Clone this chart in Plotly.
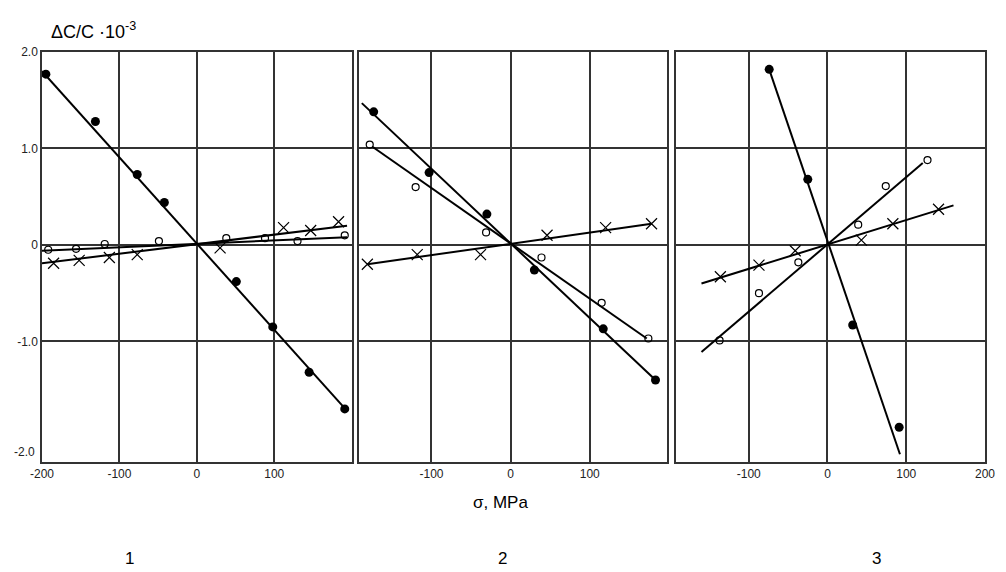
import plotly.graph_objects as go

# ---------------- data ----------------
# Panel 1
p1_filled_x = [-195, -131, -77, -42, 51, 98, 145, 191]
p1_filled_y = [1.77, 1.28, 0.73, 0.44, -0.38, -0.85, -1.32, -1.70]
p1_open_x = [-192, -156, -119, -49, 38, 88, 130, 191]
p1_open_y = [-0.05, -0.04, 0.01, 0.04, 0.07, 0.07, 0.04, 0.10]
p1_cross_x = [-185, -152, -113, -77, 30, 112, 147, 183]
p1_cross_y = [-0.19, -0.16, -0.13, -0.10, -0.03, 0.18, 0.15, 0.24]
p1_fit_filled_x = [-200, 194]
p1_fit_filled_y = [1.80, -1.72]
p1_fit_open_x = [-200, 194]
p1_fit_open_y = [-0.06, 0.08]
p1_fit_cross_x = [-200, 194]
p1_fit_cross_y = [-0.19, 0.20]

# Panel 2
p2_filled_x = [-173, -103, -30, 30, 117, 183]
p2_filled_y = [1.38, 0.75, 0.32, -0.26, -0.87, -1.40]
p2_open_x = [-178, -120, -31, 39, 115, 174]
p2_open_y = [1.04, 0.60, 0.13, -0.13, -0.60, -0.97]
p2_cross_x = [-181, -118, -38, 46, 120, 178]
p2_cross_y = [-0.20, -0.10, -0.10, 0.10, 0.18, 0.22]
p2_fit_filled_x = [-188, 183]
p2_fit_filled_y = [1.47, -1.40]
p2_fit_open_x = [-175, 172]
p2_fit_open_y = [1.02, -0.97]
p2_fit_cross_x = [-181, 178]
p2_fit_cross_y = [-0.20, 0.22]

# Panel 3
p3_filled_x = [-74, -25, 32, 91]
p3_filled_y = [1.82, 0.68, -0.83, -1.89]
p3_open_x = [-137, -87, -37, 39, 74, 127]
p3_open_y = [-0.99, -0.50, -0.18, 0.21, 0.61, 0.88]
p3_cross_x = [-136, -87, -41, 43, 83, 141]
p3_cross_y = [-0.33, -0.21, -0.06, 0.05, 0.22, 0.37]
p3_fit_filled_x = [-74, 92]
p3_fit_filled_y = [1.82, -2.17]
p3_fit_open_x = [-160, 121]
p3_fit_open_y = [-1.11, 0.85]
p3_fit_cross_x = [-160, 160]
p3_fit_cross_y = [-0.40, 0.41]

y_tick_vals = [2.0, 1.0, 0.0, -1.0]
y_tick_text = ["2.0", "1.0", "0", "-1.0"]
x1_ticks = [-200, -100, 0, 100]
x1_text = ["-200", "-100", "0", "100"]
x2_ticks = [-100, 0, 100]
x2_text = ["-100", "0", "100"]
x3_ticks = [-100, 0, 100, 200]
x3_text = ["-100", "0", "100", "200"]
panel_labels = ["1", "2", "3"]

# ---------------- figure ----------------
fig = go.Figure()

panels = [
    (p1_filled_x, p1_filled_y, p1_open_x, p1_open_y, p1_cross_x, p1_cross_y,
     p1_fit_filled_x, p1_fit_filled_y, p1_fit_open_x, p1_fit_open_y, p1_fit_cross_x, p1_fit_cross_y),
    (p2_filled_x, p2_filled_y, p2_open_x, p2_open_y, p2_cross_x, p2_cross_y,
     p2_fit_filled_x, p2_fit_filled_y, p2_fit_open_x, p2_fit_open_y, p2_fit_cross_x, p2_fit_cross_y),
    (p3_filled_x, p3_filled_y, p3_open_x, p3_open_y, p3_cross_x, p3_cross_y,
     p3_fit_filled_x, p3_fit_filled_y, p3_fit_open_x, p3_fit_open_y, p3_fit_cross_x, p3_fit_cross_y),
]

for i, pdata in enumerate(panels):
    (fx, fy, ox, oy, cx, cy, ffx, ffy, fox, foy, fcx, fcy) = pdata
    xa = "x" if i == 0 else f"x{i+1}"
    ya = "y" if i == 0 else f"y{i+1}"
    line_style = dict(color="black", width=2)
    for lx, ly in [(ffx, ffy), (fox, foy), (fcx, fcy)]:
        fig.add_trace(go.Scatter(x=lx, y=ly, mode="lines", line=line_style,
                                 xaxis=xa, yaxis=ya, showlegend=False, hoverinfo="skip"))
    fig.add_trace(go.Scatter(x=fx, y=fy, mode="markers",
                             marker=dict(symbol="circle", size=9, color="black"),
                             xaxis=xa, yaxis=ya, showlegend=False))
    fig.add_trace(go.Scatter(x=ox, y=oy, mode="markers",
                             marker=dict(symbol="circle-open", size=7, color="black",
                                         line=dict(width=1.2, color="black")),
                             xaxis=xa, yaxis=ya, showlegend=False))
    fig.add_trace(go.Scatter(x=cx, y=cy, mode="markers",
                             marker=dict(symbol="x-thin", size=11, color="black",
                                         line=dict(width=1.2, color="black")),
                             xaxis=xa, yaxis=ya, showlegend=False))

W, H = 1006, 572
ml, mr, mt, mb = 42, 11, 52, 110
pw = W - ml - mr

def dom(a, b):
    return [(a - ml) / pw, (b - ml) / pw]

tick_font = dict(family="Liberation Sans Narrow, Liberation Sans, Arial", size=12, color="#222")
grid_col = "#333333"

common_x = dict(showgrid=True, gridcolor=grid_col, gridwidth=1.5, zeroline=False,
                showline=True, linecolor=grid_col, linewidth=1.5, mirror=True,
                ticks="", tickfont=tick_font, fixedrange=True)
common_y = dict(range=[-2.25, 2.0], showgrid=True, gridcolor=grid_col, gridwidth=1.5,
                zeroline=False, showline=True, linecolor=grid_col, linewidth=1.5,
                mirror=True, ticks="", tickvals=y_tick_vals, fixedrange=True)

fig.update_layout(
    width=W, height=H,
    margin=dict(l=ml, r=mr, t=mt, b=mb),
    plot_bgcolor="white", paper_bgcolor="white",
    xaxis=dict(domain=dom(42, 355), range=[-200, 200], tickvals=x1_ticks, ticktext=x1_text,
               anchor="y", **common_x),
    xaxis2=dict(domain=dom(362, 674), range=[-192, 198], tickvals=x2_ticks, ticktext=x2_text,
                anchor="y2", **common_x),
    xaxis3=dict(domain=dom(683, 995), range=[-192, 200], tickvals=x3_ticks, ticktext=x3_text,
                anchor="y3", **common_x),
    yaxis=dict(anchor="x", ticktext=y_tick_text, showticklabels=True, tickfont=tick_font, **common_y),
    yaxis2=dict(anchor="x2", showticklabels=False, **common_y),
    yaxis3=dict(anchor="x3", showticklabels=False, **common_y),
)

ph = H - mt - mb
annotations = [
    dict(text="ΔC/C ·10<sup>-3</sup>", xref="paper", yref="paper",
         x=(49 - ml) / pw, y=1 + (52 - 31) / ph, xanchor="left", yanchor="middle",
         showarrow=False, font=dict(family="Liberation Sans, Arial", size=18, color="black")),
    dict(text="-2.0", xref="paper", yref="paper", x=-0.005, y=(462 - 452) / ph,
         xanchor="right", yanchor="middle", showarrow=False, font=tick_font),
    dict(text="σ, MPa", xref="paper", yref="paper", x=(505 - ml) / pw, y=-(502 - 462) / ph,
         xanchor="center", yanchor="middle", showarrow=False,
         font=dict(family="Liberation Sans, Arial", size=17, color="black")),
]
for lab, px in zip(panel_labels, [130, 507, 885]):
    annotations.append(dict(text=lab, xref="paper", yref="paper", x=(px - ml) / pw,
                            y=-(558 - 462) / ph, xanchor="center", yanchor="middle",
                            showarrow=False,
                            font=dict(family="Liberation Sans, Arial", size=17, color="black")))
fig.update_layout(annotations=annotations)

fig.write_html("out.html")
